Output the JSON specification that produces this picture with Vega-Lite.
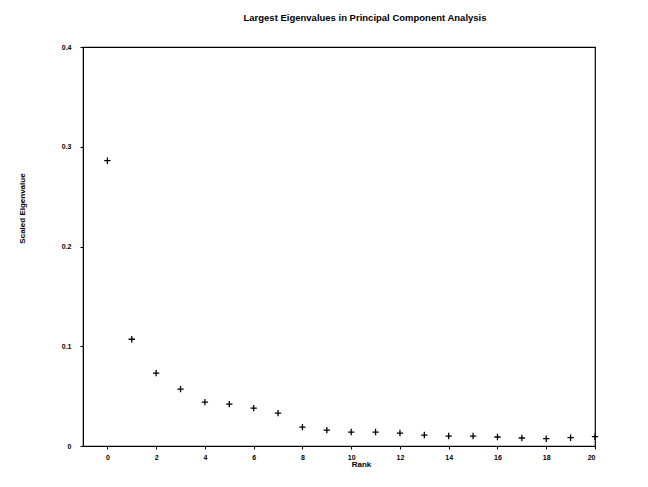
{
  "$schema": "https://vega.github.io/schema/vega-lite/v6.json",
  "autosize": "none",
  "width": 512,
  "height": 399,
  "padding": {"left": 83, "top": 47, "right": 53, "bottom": 41},
  "background": "white",
  "title": {
    "text": "Largest Eigenvalues in Principal Component Analysis",
    "font": "Liberation Sans",
    "fontSize": 9.5,
    "fontWeight": "bold",
    "color": "black",
    "anchor": "middle",
    "dx": 26,
    "offset": 21
  },
  "config": {
    "view": {"stroke": "black", "strokeWidth": 1.2},
    "axis": {
      "domainColor": "black",
      "tickColor": "black",
      "labelColor": "black",
      "titleColor": "black",
      "labelFont": "Liberation Sans",
      "titleFont": "Liberation Sans",
      "labelFontSize": 7,
      "labelFontWeight": "bold",
      "titleFontSize": 8,
      "titleFontWeight": "bold",
      "grid": false,
      "tickSize": 3
    }
  },
  "data": {
    "values": [
      {"rank": 0, "eig": 0.286},
      {"rank": 1, "eig": 0.107},
      {"rank": 2, "eig": 0.073},
      {"rank": 3, "eig": 0.057},
      {"rank": 4, "eig": 0.044},
      {"rank": 5, "eig": 0.042},
      {"rank": 6, "eig": 0.038},
      {"rank": 7, "eig": 0.033},
      {"rank": 8, "eig": 0.019},
      {"rank": 9, "eig": 0.016},
      {"rank": 10, "eig": 0.014},
      {"rank": 11, "eig": 0.014},
      {"rank": 12, "eig": 0.013},
      {"rank": 13, "eig": 0.011},
      {"rank": 14, "eig": 0.010},
      {"rank": 15, "eig": 0.010},
      {"rank": 16, "eig": 0.009},
      {"rank": 17, "eig": 0.008},
      {"rank": 18, "eig": 0.0073},
      {"rank": 19, "eig": 0.0083},
      {"rank": 20, "eig": 0.0093}
    ]
  },
  "mark": {
    "type": "point",
    "shape": "M-1,0H1M0,-1V1",
    "filled": false,
    "stroke": "black",
    "strokeWidth": 1.3,
    "size": 40,
    "opacity": 1
  },
  "encoding": {
    "x": {
      "field": "rank",
      "type": "quantitative",
      "scale": {"domain": [-1, 20], "nice": false, "zero": false},
      "axis": {
        "title": "Rank",
        "values": [0, 2, 4, 6, 8, 10, 12, 14, 16, 18, 20],
        "labelPadding": 4,
        "titleX": 278,
        "titleY": 14,
        "titleBaseline": "top",
        "domain": true
      }
    },
    "y": {
      "field": "eig",
      "type": "quantitative",
      "scale": {"domain": [0, 0.4], "nice": false},
      "axis": {
        "title": "Scaled Eigenvalue",
        "values": [0, 0.1, 0.2, 0.3, 0.4],
        "format": "~g",
        "labelPadding": 9,
        "titleX": -57,
        "titleY": 161,
        "titleAlign": "center",
        "titleBaseline": "bottom"
      }
    }
  }
}
